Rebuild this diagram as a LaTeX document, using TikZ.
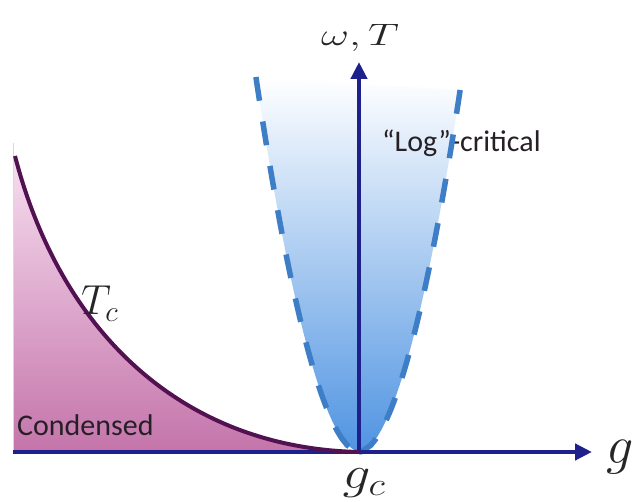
\RequirePackage{fix-cm}
\documentclass[tikz,border=0pt]{standalone}
\usepackage{fontspec}
\setsansfont{Carlito}
\usetikzlibrary{arrows.meta}
\definecolor{axiscol}{RGB}{30,32,140}
\definecolor{dashcol}{RGB}{62,126,198}
\definecolor{curvecol}{RGB}{82,18,82}
\definecolor{pinktop}{RGB}{247,222,240}
\definecolor{pinkbot}{RGB}{196,116,170}
\definecolor{bluebot}{RGB}{80,148,226}
\definecolor{bluemid}{RGB}{172,212,243}
\definecolor{txtcol}{RGB}{38,32,38}
\begin{document}
\begin{tikzpicture}[x=1pt,y=-1pt,
  axis/.style={draw=axiscol,line width=4.5pt,-{Triangle[length=17pt,width=16pt]}},
  critline/.style={draw=dashcol,line width=5.5pt,dash pattern=on 24pt off 21pt},
  tcline/.style={draw=curvecol,line width=4pt},
  mathlbl/.style={inner sep=0pt,text=black!85},
  sanslbl/.style={inner sep=0pt,text=txtcol,font=\sffamily\fontsize{30}{33}\selectfont}]
\useasboundingbox (0,0) rectangle (638,502);
\coordinate (O) at (359,452);
\coordinate (xstart) at (13,452);
\coordinate (xend) at (592,452);
\coordinate (yend) at (359,62);
\coordinate (tctop) at (15,156);
% blue log-critical region
\shade[top color=white, middle color=bluemid, bottom color=bluebot]
  plot[domain=375:0.5,samples=50] ({359-4.2*(\x)^0.54},{452-\x})
  -- (O)
  -- plot[domain=0.5:362,samples=50] ({359+4.2*(\x)^0.54},{452-\x}) -- cycle;
% pink condensed region
\shade[top color=pinktop, bottom color=pinkbot]
  (tctop) .. controls (60,330) and (180,448) .. (O) -- (xstart) -- (13,156) -- cycle;
\draw[black!15, line width=0.8pt] (13,143) -- (xstart);
% labels
\node[sanslbl, anchor=base west] (cond) at (17,436) {Condensed};
\node[sanslbl, anchor=base west] (log) at (382,152) {“Log”-critical};
% dashed crossover lines
\draw[critline] plot[domain=375:0.5,samples=60] ({359-4.2*(\x)^0.54},{452-\x}) -- (O);
\draw[critline] plot[domain=362:0.5,samples=60] ({359+4.2*(\x)^0.54},{452-\x}) -- (O);
% axes
\draw[axis] (xstart) -- (xend);
\draw[axis] (O) -- (yend);
% Tc curve
\draw[tcline] (tctop) .. controls (60,330) and (180,448) .. (O);
% math labels
\node[mathlbl, font=\fontsize{31}{34}\selectfont] (wT) at (360,38) {\scalebox{1.4}[1]{$\omega,T$}};
\node[mathlbl, font=\fontsize{54}{58}\selectfont, anchor=base] (g) at (620,464) {$g$};
\node[mathlbl, font=\fontsize{46}{50}\selectfont, anchor=base] (gc) at (364,489) {\scalebox{1.2}[1]{$g_c$}};
\node[mathlbl, font=\fontsize{42}{45}\selectfont, anchor=base west] (Tc) at (81,315) {$T_c$};
\end{tikzpicture}
\end{document}
